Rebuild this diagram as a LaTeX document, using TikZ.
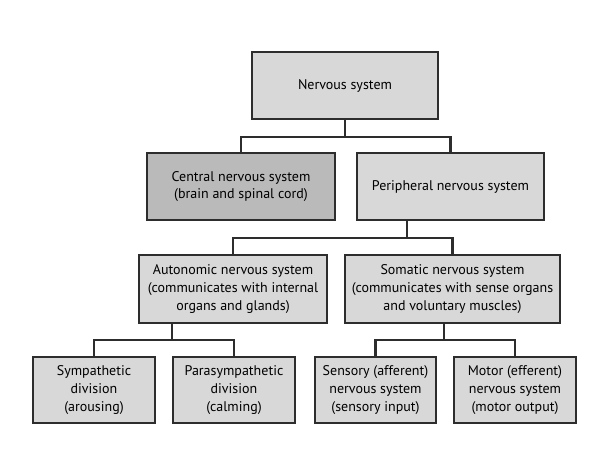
\documentclass[tikz,border=0pt]{standalone}
\usepackage{fontspec}
\setmainfont{PT Sans}
\usetikzlibrary{calc}
\definecolor{boxfill}{RGB}{216,216,216}
\definecolor{cnsfill}{RGB}{186,186,186}
\definecolor{edgec}{RGB}{45,45,45}
\begin{document}
\begin{tikzpicture}[x=1pt,y=-1pt,
  box/.style={draw=edgec, line width=1.6pt, fill=boxfill, align=center, inner sep=0pt,
    font=\fontsize{14}{17.6}\selectfont, text=black},
  conn/.style={draw=edgec, line width=2.2pt}]
\useasboundingbox[fill=white] (0,0) rectangle (590,448);
\node[box, minimum width=186pt, minimum height=67pt] (ns) at (345,85.5) {Nervous system};
\node[box, fill=cnsfill, minimum width=188pt, minimum height=67pt] (cns) at (241,186.5) {Central nervous system\\(brain and spinal cord)};
\node[box, minimum width=187pt, minimum height=67pt] (pns) at (450.5,186.5) {Peripheral nervous system};
\node[box, minimum width=188pt, minimum height=68pt] (ans) at (233,289) {Autonomic nervous system\\(communicates with internal\\organs and glands)};
\node[box, minimum width=215pt, minimum height=68pt] (sns) at (452.5,289) {Somatic nervous system\\(communicates with sense organs\\and voluntary muscles)};
\node[box, minimum width=122pt, minimum height=66pt] (sym) at (94,390) {Sympathetic\\division\\(arousing)};
\node[box, minimum width=122pt, minimum height=66pt] (para) at (234,390) {Parasympathetic\\division\\(calming)};
\node[box, minimum width=121pt, minimum height=66pt] (sens) at (375.5,390) {Sensory (afferent)\\nervous system\\(sensory input)};
\node[box, minimum width=122pt, minimum height=66pt] (mot) at (515,390) {Motor (efferent)\\nervous system\\(motor output)};
% level 1
\coordinate (j1) at (345,137);
\draw[conn] (ns.south) -- (j1);
\draw[conn] (cns.north) |- (j1) -| (pns.north);
% level 2
\coordinate (p1) at ($(pns.south west)!0.27!(pns.south east)$);
\coordinate (j2) at (p1 |- 0,238);
\draw[conn] (p1) -- (j2);
\draw[conn] (ans.north) |- (j2) -| (sns.north);
% level 3 left
\coordinate (p2) at ($(ans.south west)!0.18!(ans.south east)$);
\coordinate (j3) at (p2 |- 0,340);
\draw[conn] (p2) -- (j3);
\draw[conn] (sym.north) |- (j3) -| (para.north);
% level 3 right
\coordinate (p3) at ($(sns.south west)!0.46!(sns.south east)$);
\coordinate (j4) at (p3 |- 0,340);
\draw[conn] (p3) -- (j4);
\draw[conn] (sens.north) |- (j4) -| (mot.north);
\end{tikzpicture}
\end{document}
